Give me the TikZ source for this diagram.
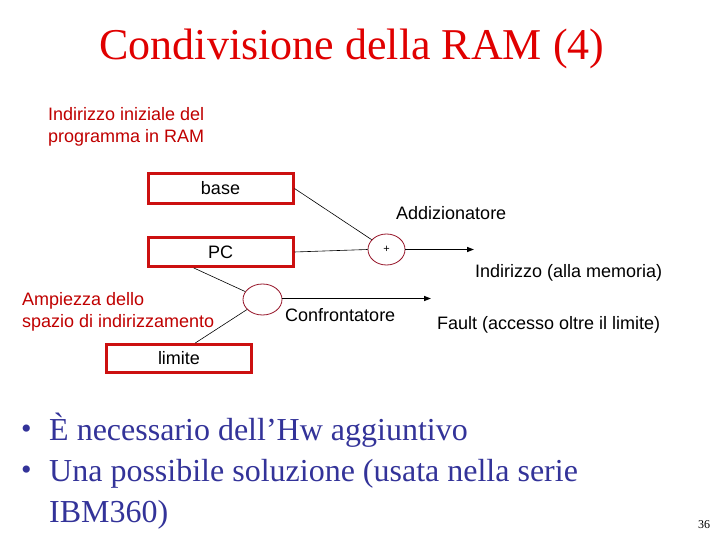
\documentclass[tikz,border=0pt]{standalone}
\usepackage{fontspec}
\setmainfont{Liberation Serif}
\newfontfamily\arial{Liberation Sans}
\usetikzlibrary{shapes.geometric,arrows.meta,calc}
\definecolor{titlered}{RGB}{224,0,0}
\definecolor{darkred}{RGB}{192,0,0}
\definecolor{boxred}{RGB}{204,16,16}
\definecolor{ellred}{RGB}{150,20,40}
\definecolor{navy}{RGB}{51,51,153}
\tikzset{
  regbox/.style={draw=boxred, line width=3pt, minimum width=145pt, minimum height=30pt, inner sep=0pt, font=\arial\fontsize{18}{22}\selectfont},
  unit/.style={ellipse, draw=ellred, line width=0.8pt, inner sep=0pt, font=\arial\fontsize{11}{13}\selectfont},
  lbl/.style={anchor=base west, inner sep=0pt, font=\arial\fontsize{18}{22}\selectfont},
  wire/.style={draw=black, line width=0.6pt},
  arr/.style={draw=black, line width=1.5pt, -{Triangle[length=7pt,width=5pt]}},
  bul/.style={anchor=base west, inner sep=0pt, text=navy, font=\fontsize{32}{38}\selectfont},
  dot/.style={anchor=base west, inner sep=0pt, text=navy, font=\fontsize{30}{36}\selectfont}
}
\begin{document}
\begin{tikzpicture}[x=1pt,y=-1pt]
\useasboundingbox[fill=white] (0,0) rectangle (720,540);
% title
\node[anchor=base, inner sep=0pt, text=titlered, font=\fontsize{44}{50}\selectfont] (title) at (352,60) {Condivisione della RAM (4)};
% labels
\node[lbl, text=darkred] (inil1) at (48,121) {Indirizzo iniziale del};
\node[lbl, text=darkred] (inil2) at (48,143) {programma in RAM};
% boxes
\node[regbox] (base) at (220.5,188.5) {base};
\node[regbox, minimum height=29pt] (pc) at (220.5,252) {PC};
\node[regbox, minimum height=28pt] (lim) at (179,358.5) {limite};
% units
\node[unit, minimum width=37pt, minimum height=31pt] (adder) at (386.5,249.5) {+};
\node[unit, minimum width=39pt, minimum height=31pt] (comp) at (262.5,299.5) {};
% labels
\node[lbl] (addl) at (396,220) {Addizionatore};
\node[lbl] (indl) at (475,277) {Indirizzo (alla memoria)};
\node[lbl, text=darkred] (amp1) at (22,305) {Ampiezza dello};
\node[lbl, text=darkred] (amp2) at (22,327) {spazio di indirizzamento};
\node[lbl] (confl) at (285,321) {Confrontatore};
\node[lbl] (faultl) at (437,329) {Fault (accesso oltre il limite)};
% wires
\coordinate (pcb) at ($(pc.south west)!0.32!(pc.south east)$);
\coordinate (limt) at ($(lim.north west)!0.61!(lim.north east)$);
\coordinate (addout) at (474,249.5);
\coordinate (compout) at (431,298.5);
\draw[wire] (base.east) -- (adder);
\draw[wire] (pc.east) -- (adder.west);
\draw[wire] (pcb) -- (comp);
\draw[wire] (limt) -- (comp);
\draw[arr] (adder.east) -- (addout);
\draw[arr] (comp.east |- compout) -- (compout);
% bullets
\node[dot] (b1) at (21,438) {•};
\node[bul] (t1) at (49,440) {È necessario dell’Hw aggiuntivo};
\node[dot] (b2) at (21,479) {•};
\node[bul] (t2) at (49,481) {Una possibile soluzione (usata nella serie};
\node[bul] (t3) at (49,522) {IBM360)};
\node[anchor=base west, inner sep=0pt, font=\fontsize{12}{14}\selectfont] (pg) at (698,528) {36};
\end{tikzpicture}
\end{document}
